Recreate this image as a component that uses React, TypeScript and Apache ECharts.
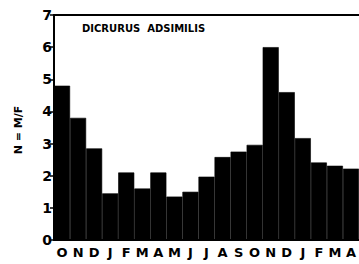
import React, { useEffect, useRef } from "react";
import * as echarts from "echarts";

const months = ["O", "N", "D", "J", "F", "M", "A", "M", "J", "J", "A", "S", "O", "N", "D", "J", "F", "M", "A"];
const ratio = [4.8, 3.8, 2.85, 1.45, 2.1, 1.6, 2.1, 1.35, 1.5, 1.97, 2.58, 2.75, 2.96, 6.0, 4.6, 3.17, 2.41, 2.31, 2.22];
const yTicks = [0, 1, 2, 3, 4, 5, 6, 7];
const title = "DICRURUS  ADSIMILIS";
const yName = "N = M/F";

export default function App() {
  const ref = useRef<HTMLDivElement>(null);
  useEffect(() => {
    if (!ref.current) return;
    document.body.style.margin = "0";
    document.body.style.overflow = "hidden";
    const chart = echarts.init(ref.current, null, { renderer: "svg" });
    const font = "'DejaVu Sans', sans-serif";
    chart.setOption({
      animation: false,
      backgroundColor: "#fff",
      grid: { left: 54, right: 0, top: 15, bottom: 24 },
      xAxis: [
        {
          type: "category",
          data: months,
          axisLine: { show: true, lineStyle: { color: "#000", width: 2 } },
          axisTick: { show: false },
          axisLabel: { color: "#000", fontFamily: font, fontWeight: "bold", fontSize: 13, margin: 6, interval: 0 },
        },
        {
          type: "category",
          position: "top",
          data: months,
          axisLine: { show: true, lineStyle: { color: "#000", width: 2 } },
          axisTick: { show: false },
          axisLabel: { show: false },
        },
      ],
      yAxis: {
        type: "value",
        min: yTicks[0],
        max: yTicks[yTicks.length - 1],
        interval: 1,
        splitLine: { show: false },
        axisLine: { show: true, lineStyle: { color: "#000", width: 2 } },
        axisTick: { show: true, length: 4, lineStyle: { color: "#000", width: 1.5 } },
        axisLabel: { color: "#000", fontFamily: font, fontWeight: "bold", fontSize: 14, margin: 2 },
      },
      series: [
        {
          type: "bar",
          data: ratio,
          barCategoryGap: "0%",
          itemStyle: { color: "#000", borderColor: "#000", borderWidth: 0.6 },
        },
      ],
      graphic: [
        {
          type: "text",
          left: 82,
          top: 23,
          style: { text: title, fill: "#000", font: "bold 10px 'DejaVu Sans', sans-serif" },
        },
        {
          type: "text",
          x: 18,
          y: 130,
          rotation: Math.PI / 2,
          style: {
            text: yName,
            fill: "#000",
            font: "bold 11px 'DejaVu Sans', sans-serif",
            align: "center",
            verticalAlign: "middle",
          },
        },
      ],
    });
    return () => chart.dispose();
  }, []);
  return <div ref={ref} style={{ position: "fixed", left: 0, top: 0, width: 359, height: 264 }} />;
}
